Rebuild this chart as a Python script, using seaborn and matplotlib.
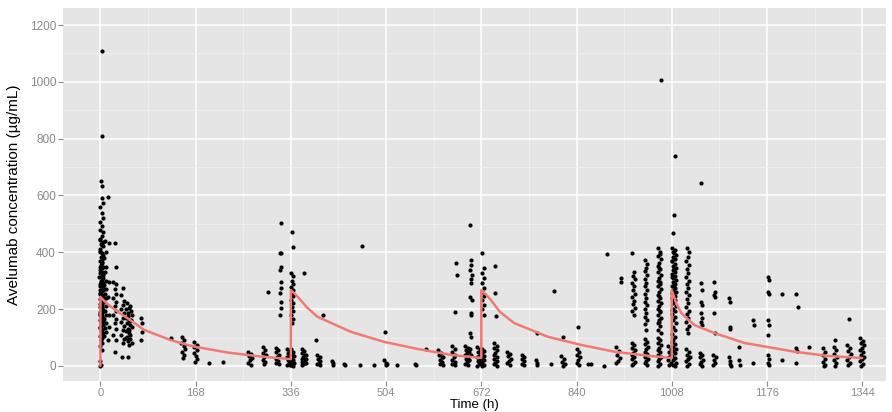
import numpy as np
import pandas as pd
import matplotlib
matplotlib.use("Agg")
import matplotlib.pyplot as plt
from matplotlib.ticker import MultipleLocator
import seaborn as sns

# ---------------- data ----------------
x_ticks = [0, 168, 336, 504, 672, 840, 1008, 1176, 1344]
y_ticks = [0, 200, 400, 600, 800, 1000, 1200]

# observed concentrations, (time h, conc ug/mL)
obs_dose1 = [
    (0, 0), (1, 5), (0, 18), (2, 1108), (2, 810), (1, 650), (3, 633), (2, 591), (14, 594), (4, 575),
    (-1, 560), (3, 538), (5, 520), (0, 505), (3, 492), (-1, 480), (4, 470), (2, 458), (0, 447), (5, 438),
    (1, 430), (4, 421), (-1, 413), (0, 405), (3, 398), (5, 390), (4, 383), (2, 376), (-1, 369), (3, 362),
    (1, 356), (5, 350), (2, 344), (0, 338), (3, 332), (-1, 326), (4, 320), (2, 315), (5, 309), (3, 304),
    (1, 298), (4, 293), (-1, 288), (0, 283), (3, 278), (5, 273), (4, 268), (2, 263), (0, 258), (-1, 253),
    (1, 248), (4, 243), (2, 238), (5, 233), (3, 228), (1, 223), (-1, 218), (2, 213), (0, 208), (3, 203),
    (5, 198), (4, 193), (2, 188), (0, 183), (-1, 178), (1, 173), (4, 168), (2, 163), (5, 158), (3, 153),
    (1, 148), (4, 143), (-1, 138), (0, 133), (3, 128), (1, 122), (5, 116), (2, 110), (0, 104), (3, 97),
    (1, 90), (2, 80), (0, 70), (3, 55),
    (0, 445), (2, 425), (-1, 402), (1, 385), (3, 367), (0, 347), (2, 327), (-2, 312), (1, 295), (3, 280),
    (0, 266), (2, 250), (-1, 236), (1, 220), (3, 206), (0, 190), (2, 176), (-1, 160), (1, 145), (3, 131),
    (8, 440), (9, 400), (7, 380), (10, 350), (8, 330), (9, 300), (7, 285), (10, 270), (8, 255), (9, 240),
    (7, 225), (10, 210), (8, 195), (9, 180), (7, 165), (10, 150), (8, 135), (9, 120), (7, 105),
    (15, 433), (16, 296), (14, 243), (15, 180), (16, 137), (14, 91),
    (25, 433), (28, 349), (23, 296), (27, 290), (25, 270), (28, 255), (23, 240), (27, 225), (25, 210),
    (28, 195), (23, 180), (27, 165), (25, 150), (28, 130), (23, 110), (27, 92), (25, 49),
    (39, 274), (37, 250), (41, 230), (39, 215), (37, 200), (41, 185), (39, 170), (37, 155), (41, 140),
    (39, 125), (37, 110), (41, 95), (39, 80), (38, 32),
    (47, 222), (52, 210), (46, 200), (54, 192), (49, 185), (55, 178), (46, 170), (50, 163), (53, 157),
    (47, 150), (52, 143), (55, 137), (49, 130), (46, 123), (50, 117), (53, 110), (47, 103), (52, 96),
    (49, 88), (55, 80), (50, 74), (48, 32), (51, 205), (48, 175), (54, 160), (51, 128), (46, 98),
    (72, 169), (74, 150), (73, 120), (72, 92), (124, 99),
    (144, 102), (148, 90), (143, 80), (147, 70), (149, 60), (144, 50), (148, 40), (146, 28),
    (165, 84), (170, 75), (166, 65), (171, 55), (165, 45), (168, 35), (170, 25), (167, 14),
    (192, 11), (216, 14),
    (261, 49), (266, 42), (262, 35), (267, 28), (264, 20), (261, 12), (266, 5),
    (286, 67), (291, 55), (287, 45), (292, 38), (289, 30), (286, 22), (291, 15), (288, 8), (296, 260),
    (309, 63), (314, 55), (310, 48), (315, 40), (312, 33), (309, 26), (314, 19), (310, 12), (315, 7),
    (318, 503), (317, 398), (319, 396), (318, 348), (317, 338), (319, 296), (318, 274), (317, 257),
    (319, 225), (318, 204), (317, 180),
    (329, 60), (334, 52), (331, 45), (335, 40), (332, 35), (329, 30), (334, 25), (331, 20), (335, 15),
    (332, 10), (329, 5), (334, 2), (336, 45), (336, 30),
]

obs_dose2 = [
    (338, 472), (340, 419), (337, 327), (339, 315), (338, 300), (340, 290), (337, 278), (339, 267),
    (338, 255), (340, 245), (337, 232), (339, 220), (338, 208), (340, 195), (337, 180), (339, 165), (338, 151),
    (337, 58), (340, 50), (338, 42), (341, 35), (337, 28), (340, 22), (338, 16), (341, 10), (337, 5), (339, 0),
    (360, 327),
    (355, 60), (360, 52), (356, 45), (361, 38), (358, 32), (355, 26), (360, 20), (356, 15), (361, 10),
    (358, 6), (355, 2), (362, 40), (363, 25), (362, 12),
    (380, 91), (392, 180),
    (383, 40), (387, 32), (384, 25), (388, 18), (385, 12), (383, 6), (387, 2),
    (408, 18), (410, 10), (411, 5), (430, 8), (432, 3), (458, 5), (462, 423), (482, 5), (502, 120),
    (501, 20), (504, 12), (506, 6), (503, 2), (524, 4), (555, 8), (557, 2), (574, 60),
    (596, 56), (601, 45), (597, 38), (602, 30), (599, 22), (603, 15), (600, 8), (604, 4), (605, 30),
    (620, 70), (625, 60), (621, 50), (626, 40), (623, 30), (620, 22), (625, 15), (621, 8), (626, 4),
    (627, 362), (629, 320), (626, 190),
    (644, 70), (649, 63), (645, 56), (650, 50), (647, 44), (644, 38), (649, 32), (645, 26), (650, 20),
    (647, 14), (644, 8), (649, 2), (652, 60), (653, 40), (651, 20),
    (652, 496), (654, 373), (653, 357), (652, 338), (655, 320), (653, 305), (654, 292), (652, 243),
    (655, 232), (653, 186), (654, 180), (652, 116), (653, 102),
    (665, 65), (670, 58), (666, 50), (671, 43), (668, 36), (665, 30), (670, 24), (666, 18), (671, 12),
    (668, 6), (665, 1), (671, 45), (671, 20),
]

obs_dose3 = [
    (674, 398), (676, 346), (673, 327), (677, 310), (674, 292), (676, 274), (673, 260), (677, 245),
    (674, 232), (676, 215), (673, 200), (677, 180),
    (673, 60), (676, 52), (674, 44), (677, 36), (673, 28), (676, 20), (674, 12), (677, 5), (673, 0),
    (696, 352), (696, 257), (698, 176),
    (694, 80), (699, 70), (695, 62), (700, 55), (697, 47), (694, 40), (699, 33), (695, 26), (700, 19),
    (697, 12), (694, 6), (699, 1),
    (718, 50), (723, 42), (719, 34), (724, 26), (721, 18), (718, 10), (723, 3),
    (743, 40), (748, 32), (744, 24), (747, 16), (743, 8), (748, 2),
    (769, 20), (771, 10), (770, 2), (770, 115), (795, 8), (800, 265),
    (813, 35), (818, 25), (814, 15), (819, 6), (816, 0), (817, 101),
    (840, 60), (845, 50), (841, 40), (846, 30), (843, 20), (840, 12), (845, 4), (843, 137),
    (860, 8), (866, 8), (889, 0), (894, 394),
    (910, 65), (915, 52), (911, 40), (916, 28), (913, 18), (910, 10), (918, 310), (919, 296),
    (938, 397), (942, 330), (940, 318), (943, 305), (938, 292), (942, 280), (940, 268), (943, 255),
    (938, 243), (942, 230), (940, 218), (943, 205), (938, 192), (942, 180),
    (937, 81), (942, 72), (938, 63), (943, 55), (940, 47), (937, 39), (942, 31), (938, 23), (943, 15),
    (940, 8), (937, 2),
    (961, 373), (965, 360), (963, 346), (960, 333), (965, 320), (961, 306), (963, 293), (960, 280),
    (965, 266), (961, 253), (963, 240), (960, 226), (965, 213), (961, 200), (963, 186), (960, 173),
    (965, 160), (961, 146), (963, 127),
    (960, 95), (965, 86), (961, 77), (966, 68), (963, 59), (960, 50), (965, 41), (961, 33), (966, 25),
    (963, 17), (960, 9), (965, 2),
    (983, 415), (988, 400), (984, 388), (989, 376), (986, 364), (983, 352), (988, 340), (984, 330),
    (989, 320), (986, 310), (983, 300), (988, 290), (984, 280), (989, 270), (986, 260), (983, 250),
    (988, 240), (984, 230), (989, 220), (986, 210), (983, 200), (988, 190), (984, 180), (989, 170),
    (986, 160), (983, 150), (988, 140), (984, 128), (989, 116),
    (987, 395), (985, 345), (987, 295), (985, 245), (987, 195), (985, 155),
    (983, 100), (988, 90), (984, 80), (989, 72), (986, 64), (983, 56), (988, 48), (984, 40), (989, 32),
    (986, 24), (983, 16), (988, 8), (984, 1), (989, 1006),
    (1002, 70), (1006, 60), (1003, 50), (1007, 40), (1004, 30), (1002, 20), (1006, 10), (1003, 2),
]

obs_dose4 = [
    (1012, 531), (1011, 468), (1013, 739), (1008, 415), (1013, 408), (1010, 400), (1015, 392), (1011, 384),
    (1014, 376), (1008, 368), (1013, 360), (1010, 352), (1015, 345), (1011, 338), (1014, 330), (1008, 323),
    (1013, 316), (1010, 309), (1015, 302), (1011, 295), (1014, 288), (1008, 281), (1013, 274), (1010, 267),
    (1015, 260), (1011, 253), (1014, 246), (1008, 239), (1013, 232), (1010, 222), (1015, 212), (1011, 202),
    (1014, 192), (1008, 182), (1013, 172), (1010, 162), (1015, 150), (1011, 138), (1014, 126), (1008, 114),
    (1013, 102), (1010, 91),
    (1012, 398), (1009, 371), (1012, 342), (1009, 314), (1012, 286), (1009, 258), (1012, 228), (1009, 196),
    (1009, 85), (1013, 76), (1010, 68), (1015, 60), (1011, 52), (1014, 44), (1009, 36), (1013, 28),
    (1010, 20), (1015, 12), (1011, 5), (1014, 0),
    (1035, 415), (1039, 400), (1037, 385), (1034, 370), (1039, 356), (1035, 342), (1037, 328), (1034, 314),
    (1039, 300), (1035, 287), (1037, 274), (1034, 261), (1039, 248), (1035, 235), (1037, 222), (1034, 208),
    (1039, 195), (1035, 182), (1037, 168), (1034, 155), (1039, 142), (1035, 129), (1037, 116),
    (1034, 60), (1039, 50), (1035, 40), (1040, 32), (1037, 24), (1034, 16), (1039, 8), (1035, 1),
    (1059, 644),
    (1059, 292), (1061, 267), (1060, 225), (1062, 215), (1059, 186), (1061, 170), (1060, 155), (1062, 144),
    (1057, 45), (1062, 38), (1058, 30), (1063, 22), (1060, 14), (1057, 6), (1062, 0),
    (1082, 296), (1084, 260), (1083, 250), (1085, 243), (1083, 186), (1084, 116),
    (1081, 40), (1086, 30), (1083, 20), (1085, 10), (1081, 2),
    (1109, 239), (1111, 225), (1110, 137), (1111, 130), (1109, 30), (1111, 18), (1110, 8), (1112, 1),
    (1127, 67), (1127, 20), (1128, 5),
    (1151, 162), (1153, 144), (1152, 10),
    (1177, 313), (1179, 303), (1178, 260), (1180, 253), (1177, 162), (1179, 144), (1178, 109),
    (1177, 40), (1179, 25), (1178, 12), (1180, 2),
    (1202, 253), (1202, 20),
    (1228, 253), (1230, 208), (1228, 63), (1229, 53), (1228, 10),
    (1250, 67),
    (1274, 63), (1278, 50), (1275, 38), (1279, 26), (1274, 15), (1278, 5), (1276, 0),
    (1296, 91), (1294, 67), (1298, 55), (1295, 43), (1299, 31), (1294, 20), (1298, 9), (1296, 1),
    (1321, 165),
    (1318, 72), (1323, 62), (1319, 52), (1324, 42), (1321, 32), (1318, 22), (1323, 12), (1319, 3),
    (1341, 98), (1346, 88), (1342, 80), (1347, 72), (1344, 64), (1341, 56), (1346, 48), (1342, 40),
    (1347, 32), (1344, 24), (1341, 16), (1346, 8), (1342, 1),
]

# model prediction (red curve)
pred_time = [0, 0, 10, 26, 47, 77, 124, 150, 166, 225, 284, 336,
             336, 345, 353, 365, 383, 442, 500, 559, 618, 672,
             672, 681, 689, 705, 730, 789, 848, 907, 966, 1008,
             1008, 1016, 1025, 1048, 1083, 1136, 1225, 1284, 1344]
pred_conc = [0, 243, 222, 197, 169, 127, 91, 76, 68, 47, 33, 24,
             267, 250, 232, 205, 173, 120, 85, 60, 39, 28,
             267, 250, 232, 190, 151, 103, 74, 50, 36, 28,
             267, 220, 186, 144, 116, 81, 50, 35, 28]

# ---------------- build tables ----------------
obs = pd.DataFrame(obs_dose1 + obs_dose2 + obs_dose3 + obs_dose4, columns=["time", "conc"])
pred = pd.DataFrame({"time": pred_time, "conc": pred_conc})

# ---------------- plotting ----------------
sns.set_theme(style="white")
plt.rcParams["font.family"] = ["Liberation Sans", "DejaVu Sans"]

W, H = 892, 412
fig = plt.figure(figsize=(W / 100, H / 100), dpi=100)
left, right, top, bottom = 63, 886, 8, 381
ax_h = bottom - top
ax = fig.add_axes([left / W, (H - bottom) / H, (right - left) / W, ax_h / H])
ax.set_facecolor("#E5E5E5")

sns.scatterplot(data=obs, x="time", y="conc", s=9, color="black", linewidth=0, ax=ax, zorder=3)
sns.lineplot(data=pred, x="time", y="conc", estimator=None, sort=False,
             color="#F07A72", lw=1.8, ax=ax, zorder=4)

ax.set_xlim(-66, 1386)
ax.set_ylim(-53, 1260)
ax.set_xticks(x_ticks)
ax.set_xticklabels([str(v) for v in x_ticks])
ax.set_yticks(y_ticks)
ax.set_yticklabels([str(v) for v in y_ticks])
ax.xaxis.set_minor_locator(MultipleLocator(84))
ax.yaxis.set_minor_locator(MultipleLocator(100))

ax.grid(which="major", color="white", lw=1.1, zorder=0)
ax.grid(which="minor", color="#F2F2F2", lw=0.5, zorder=0)
ax.set_axisbelow(True)
for s in ax.spines.values():
    s.set_visible(False)

ax.tick_params(axis="both", which="major", length=3.5, width=0.8, color="#8A8A8A",
               labelsize=8.5, labelcolor="#8A8A8A", pad=1.5, direction="out",
               bottom=True, left=True)
ax.tick_params(axis="x", which="major", labelsize=8)
ax.tick_params(axis="both", which="minor", length=0)

ax.set_xlabel("Time (h)", fontsize=9.5, color="black", va="bottom")
ax.xaxis.set_label_coords(0.5, -(H - 1 - bottom) / ax_h)
ax.set_ylabel("Avelumab concentration (\u00b5g/mL)", fontsize=11, color="black", labelpad=6)

fig.savefig("out.png", dpi=100)
